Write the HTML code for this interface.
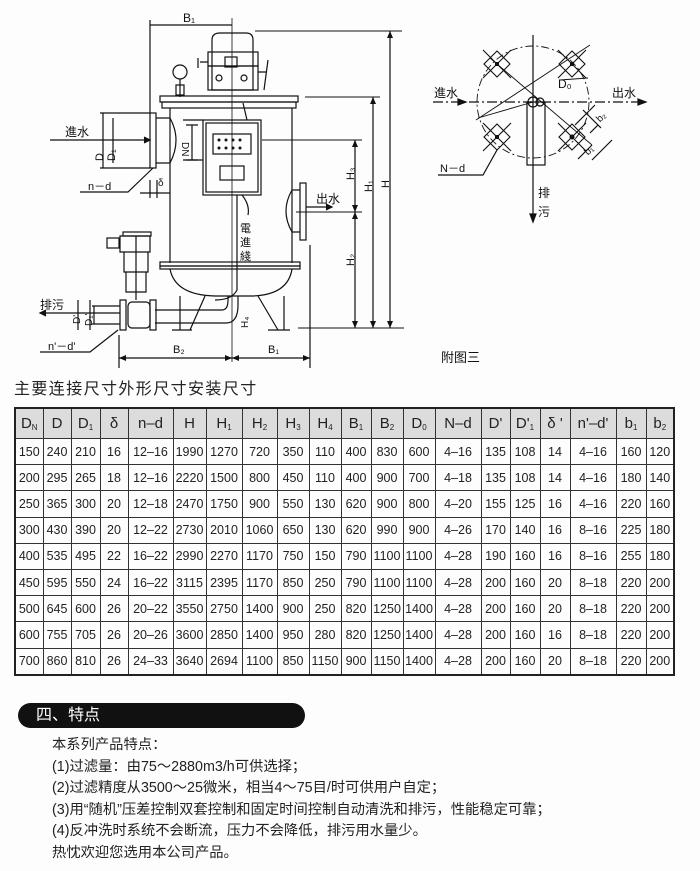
<!DOCTYPE html>
<html><head><meta charset="utf-8">
<style>
body{margin:0;background:#fff;}
.wrap{position:relative;width:700px;height:871px;overflow:hidden;background:#fdfdfd;font-family:"Liberation Sans","Noto Sans CJK SC",sans-serif;}
svg{position:absolute;left:0;top:0;}
.title{position:absolute;left:14px;top:375px;font-size:16px;color:#222;letter-spacing:1.4px;}
table{position:absolute;left:14px;top:407px;border-collapse:collapse;border:2px solid #222;font-family:"Liberation Sans",sans-serif;}
td{border:1px solid #333;text-align:center;font-size:12.5px;color:#222;height:25.2px;padding:0;}
tr.h td{background:#dcdcdc;height:29px;font-size:15px;}
sub{font-size:8px;vertical-align:-2px;}
.pill{position:absolute;left:18px;top:703px;width:287px;height:25px;background:#111;border-radius:13px;color:#fff;font-size:16px;line-height:25px;padding-left:18px;box-sizing:border-box;}
.txt{position:absolute;left:52px;top:735px;font-size:14.3px;line-height:21.6px;color:#222;}
</style></head><body><div class="wrap">
<svg width="700" height="400" viewBox="0 0 700 400" font-family="Liberation Sans, Noto Sans CJK SC, sans-serif" fill="none" stroke="#111" stroke-width="1.2">
<line x1="232" y1="18" x2="232" y2="362" stroke-width="0.8"/>
<line x1="150" y1="25" x2="232" y2="25"/><line x1="150" y1="20" x2="150" y2="113"/>
<text x="183" y="22" fill="#111" stroke="none" font-size="12">B₁</text>
<path d="M212 90 V40 Q212 33 220 33 H246 Q253 33 253 40 V90 Z"/>
<rect x="208" y="52" width="50" height="14"/>
<rect x="208" y="66" width="50" height="24"/>
<circle cx="219" cy="78" r="3"/><circle cx="244" cy="78" r="3"/>
<rect x="225" y="57" width="12" height="10"/>
<path d="M200 62 h8 M198 58 v10 M258 72 h8 M268 60 l-4 30"/>
<circle cx="180" cy="72" r="7"/><line x1="180" y1="79" x2="180" y2="97"/><rect x="176" y="85" width="8" height="10"/>
<rect x="160" y="96" width="138" height="6"/><rect x="162" y="102" width="134" height="6"/>
<line x1="170" y1="108" x2="170" y2="263"/><line x1="292" y1="108" x2="292" y2="263"/>
<rect x="160" y="262" width="140" height="4"/><rect x="160" y="266" width="140" height="3"/>
<path d="M170 269 Q175 295 215 296 H252 Q288 295 292 269"/>
<path d="M205 296 L190 330 M180 296 V330 M172 330 h20 M258 296 L278 330 M284 296 V330 M268 330 h22"/>
<rect x="203" y="120" width="58" height="75"/><rect x="206" y="123" width="52" height="69"/>
<rect x="213" y="134" width="38" height="20"/>
<g fill="#111" stroke="none"><circle cx="219" cy="140" r="1.5"/><circle cx="226" cy="140" r="1.5"/><circle cx="233" cy="140" r="1.5"/><circle cx="240" cy="140" r="1.5"/><circle cx="219" cy="148" r="1.5"/><circle cx="226" cy="148" r="1.5"/><circle cx="233" cy="148" r="1.5"/><circle cx="240" cy="148" r="1.5"/></g>
<rect x="220" y="166" width="24" height="14"/>
<path d="M237 195 V290 Q232 300 215 300"/><path d="M242 195 Q250 205 248 215"/>
<path d="M243 103 L247 120"/>
<rect x="150" y="113" width="6" height="55"/>
<path d="M156 118 H170 Q182 140 170 163 H156"/><path d="M183 120 h20 M183 160 h20"/>
<path d="M192 125 v35 M186 125 h12 M186 160 h12"/>
<line x1="50" y1="140" x2="150" y2="140"/><path d="M144 137 l6 3 -6 3" fill="#111"/>
<path d="M100 113 h50 M100 168 h50 M103 113 V168 M113 118 V163"/>
<text x="65" y="136" fill="#111" stroke="none" font-size="12">進水</text>
<text x="94" y="160" fill="#111" stroke="none" font-size="11" transform="rotate(-90 99 156)">D</text>
<text x="106" y="160" fill="#111" stroke="none" font-size="11" transform="rotate(-90 111 156)">D₁</text>
<text x="182" y="150" fill="#111" stroke="none" font-size="10" transform="rotate(90 186 146)">DN</text>
<path d="M153 168 L128 192 H80"/><text x="88" y="190" fill="#111" stroke="none" font-size="11">n－d</text>
<path d="M140 193 h30 M150 180 v18 M157 180 v18"/><text x="158" y="186" fill="#111" stroke="none" font-size="10">δ</text>
<rect x="300" y="183" width="6" height="57"/>
<path d="M300 190 H292 Q280 211 292 232 H300"/>
<line x1="306" y1="207" x2="332" y2="207"/><path d="M326 204 l6 3 -6 3" fill="#111"/>
<text x="316" y="203" fill="#111" stroke="none" font-size="12">出水</text>
<text x="240" y="232" fill="#111" stroke="none" font-size="11">電</text><text x="240" y="246" fill="#111" stroke="none" font-size="11">進</text><text x="240" y="260" fill="#111" stroke="none" font-size="11">綫</text>
<path d="M255 31 H402 M305 97 H380 M262 140 H362 M296 212 H362 M298 328 H404" stroke-width="0.9"/>
<line x1="390" y1="31" x2="390" y2="328"/><line x1="373" y1="97" x2="373" y2="328"/><line x1="355" y1="140" x2="355" y2="328"/>
<g fill="#111" stroke="none"><path d="M387 38 l3 -7 3 7z M387 321 l3 7 3 -7z M370 104 l3 -7 3 7z M370 321 l3 7 3 -7z M352 147 l3 -7 3 7z M352 205 l3 7 3 -7z M352 219 l3 -7 3 7z M352 321 l3 7 3 -7z"/>
<text x="0" y="0" font-size="11" transform="translate(354 180) rotate(-90)">H₃</text>
<text x="0" y="0" font-size="11" transform="translate(372 192) rotate(-90)">H₁</text>
<text x="0" y="0" font-size="11" transform="translate(389 188) rotate(-90)">H</text>
<text x="0" y="0" font-size="11" transform="translate(354 266) rotate(-90)">H₂</text>
<text x="0" y="0" font-size="10" transform="translate(248 328) rotate(-90)">H₄</text>
</g>
<rect x="123" y="232" width="28" height="4"/><rect x="107" y="238" width="12" height="10"/>
<path d="M120 236 h30 v16 h-30z M124 252 h24 v20 h-24z M126 272 h20 v20 h-20z"/>
<line x1="136" y1="236" x2="136" y2="300"/>
<path d="M155 310 H222 Q228 310 228 300 V296 M155 323 H226 Q238 323 238 305 V296"/>
<rect x="120" y="300" width="6" height="30"/><rect x="128" y="302" width="22" height="26" rx="4"/><rect x="150" y="300" width="6" height="30"/>
<path d="M120 306 H92 M120 324 H92" /><path d="M94 306 V324"/>
<line x1="40" y1="313" x2="120" y2="313"/><path d="M46 310 l-6 3 6 3" fill="#111"/>
<text x="40" y="309" fill="#111" stroke="none" font-size="12">排污</text>
<path d="M78 300 V330 M90 300 V330"/>
<text x="0" y="0" fill="#111" stroke="none" font-size="10" transform="translate(80 324) rotate(-90)">D'</text>
<text x="0" y="0" fill="#111" stroke="none" font-size="10" transform="translate(92 326) rotate(-90)">D₁'</text>
<path d="M118 330 L90 352 H40"/><text x="48" y="350" fill="#111" stroke="none" font-size="11">n'－d'</text>
<path d="M119 335 V368 M310 245 V368"/>
<line x1="119" y1="358" x2="310" y2="358"/>
<g fill="#111" stroke="none"><path d="M126 355 l-7 3 7 3z M225 355 l7 3 -7 3z M239 355 l-7 3 7 3z M303 355 l7 3 -7 3z"/>
<text x="173" y="353" font-size="11">B₂</text><text x="268" y="353" font-size="11">B₁</text></g>
<circle cx="533" cy="102" r="56" stroke-dasharray="8 3 2 3" stroke-width="0.9"/>
<line x1="533" y1="35" x2="533" y2="222"/><path d="M530 214 l3 8 3 -8z" fill="#111"/>
<line x1="433" y1="102" x2="646" y2="102" stroke-dasharray="10 3 2 3"/>
<path d="M466 102 l-8 -3 v6z M646 102 l-8 -3 v6z" fill="#111"/>
<path d="M490 58 L592 145 M590 45 L476 120 M478 118 L533 102 M560 80 L588 78" stroke-width="0.9"/>
<g stroke-width="1.1">
<path d="M497 51 l13 13 -13 13 -13 -13z M572 51 l13 13 -13 13 -13 -13z M497 124 l13 13 -13 13 -13 -13z M572 124 l13 13 -13 13 -13 -13z"/>
<path d="M483 50 l28 28 M511 50 l-28 28 M558 50 l28 28 M586 50 l-28 28 M483 123 l28 28 M511 123 l-28 28 M558 123 l28 28 M586 123 l-28 28"/>
</g>
<g fill="#111" stroke="none"><rect x="495" y="62" width="4" height="4"/><rect x="570" y="62" width="4" height="4"/><rect x="495" y="135" width="4" height="4"/><circle cx="572" cy="137" r="2.5"/></g>
<rect x="527" y="102" width="18" height="63"/><circle cx="533" cy="102" r="5"/><circle cx="540" cy="102" r="4"/>
<path d="M583 110 l18 18 M598 125 l-8 8 M592 145 l-14 14 M612 140 l-20 20 M575 125 l20 -20"/>
<path d="M497 150 L483 175 H438"/>
<g fill="#111" stroke="none" font-size="12">
<text x="434" y="97">進水</text><text x="612" y="97">出水</text>
<text x="558" y="88" font-size="12">D₀</text>
<text x="596" y="121" font-size="10" transform="rotate(-45 600 117)">b₂</text>
<text x="584" y="154" font-size="10" transform="rotate(-45 588 150)">b₁</text>
<text x="440" y="172" font-size="11">N－d</text>
<text x="538" y="197">排</text><text x="538" y="216">污</text>
<text x="441" y="362" font-size="13">附图三</text>
</g>
</svg>
<div class="title">主要连接尺寸外形尺寸安装尺寸</div>
<table>
<colgroup><col style="width:28px"><col style="width:28px"><col style="width:29px"><col style="width:28px"><col style="width:45px"><col style="width:33px"><col style="width:36px"><col style="width:35px"><col style="width:32px"><col style="width:32px"><col style="width:30px"><col style="width:32px"><col style="width:32px"><col style="width:46px"><col style="width:29px"><col style="width:30px"><col style="width:30px"><col style="width:46px"><col style="width:30px"><col style="width:28px"></colgroup>
<tr class="h"><td>D<sub>N</sub></td><td>D</td><td>D<sub>1</sub></td><td>δ</td><td>n–d</td><td>H</td><td>H<sub>1</sub></td><td>H<sub>2</sub></td><td>H<sub>3</sub></td><td>H<sub>4</sub></td><td>B<sub>1</sub></td><td>B<sub>2</sub></td><td>D<sub>0</sub></td><td>N–d</td><td>D'</td><td>D'<sub>1</sub></td><td>δ '</td><td>n'–d'</td><td>b<sub>1</sub></td><td>b<sub>2</sub></td></tr>
<tr><td>150</td><td>240</td><td>210</td><td>16</td><td>12–16</td><td>1990</td><td>1270</td><td>720</td><td>350</td><td>110</td><td>400</td><td>830</td><td>600</td><td>4–16</td><td>135</td><td>108</td><td>14</td><td>4–16</td><td>160</td><td>120</td></tr>
<tr><td>200</td><td>295</td><td>265</td><td>18</td><td>12–16</td><td>2220</td><td>1500</td><td>800</td><td>450</td><td>110</td><td>400</td><td>900</td><td>700</td><td>4–18</td><td>135</td><td>108</td><td>14</td><td>4–16</td><td>180</td><td>140</td></tr>
<tr><td>250</td><td>365</td><td>300</td><td>20</td><td>12–18</td><td>2470</td><td>1750</td><td>900</td><td>550</td><td>130</td><td>620</td><td>900</td><td>800</td><td>4–20</td><td>155</td><td>125</td><td>16</td><td>4–16</td><td>220</td><td>160</td></tr>
<tr><td>300</td><td>430</td><td>390</td><td>20</td><td>12–22</td><td>2730</td><td>2010</td><td>1060</td><td>650</td><td>130</td><td>620</td><td>990</td><td>900</td><td>4–26</td><td>170</td><td>140</td><td>16</td><td>8–16</td><td>225</td><td>180</td></tr>
<tr><td>400</td><td>535</td><td>495</td><td>22</td><td>16–22</td><td>2990</td><td>2270</td><td>1170</td><td>750</td><td>150</td><td>790</td><td>1100</td><td>1100</td><td>4–28</td><td>190</td><td>160</td><td>16</td><td>8–16</td><td>255</td><td>180</td></tr>
<tr><td>450</td><td>595</td><td>550</td><td>24</td><td>16–22</td><td>3115</td><td>2395</td><td>1170</td><td>850</td><td>250</td><td>790</td><td>1100</td><td>1100</td><td>4–28</td><td>200</td><td>160</td><td>20</td><td>8–18</td><td>220</td><td>200</td></tr>
<tr><td>500</td><td>645</td><td>600</td><td>26</td><td>20–22</td><td>3550</td><td>2750</td><td>1400</td><td>900</td><td>250</td><td>820</td><td>1250</td><td>1400</td><td>4–28</td><td>200</td><td>160</td><td>20</td><td>8–18</td><td>220</td><td>200</td></tr>
<tr><td>600</td><td>755</td><td>705</td><td>26</td><td>20–26</td><td>3600</td><td>2850</td><td>1400</td><td>950</td><td>280</td><td>820</td><td>1250</td><td>1400</td><td>4–28</td><td>200</td><td>160</td><td>16</td><td>8–18</td><td>220</td><td>200</td></tr>
<tr><td>700</td><td>860</td><td>810</td><td>26</td><td>24–33</td><td>3640</td><td>2694</td><td>1100</td><td>850</td><td>1150</td><td>900</td><td>1150</td><td>1400</td><td>4–28</td><td>200</td><td>160</td><td>20</td><td>8–18</td><td>220</td><td>200</td></tr>
</table>
<div class="pill">四、特点</div>
<div class="txt">本系列产品特点：<br>(1)过滤量：由75～2880m3/h可供选择；<br>(2)过滤精度从3500～25微米，相当4～75目/时可供用户自定；<br>(3)用“随机”压差控制双套控制和固定时间控制自动清洗和排污，性能稳定可靠；<br>(4)反冲洗时系统不会断流，压力不会降低，排污用水量少。<br>热忱欢迎您选用本公司产品。</div>
</div></body></html>
